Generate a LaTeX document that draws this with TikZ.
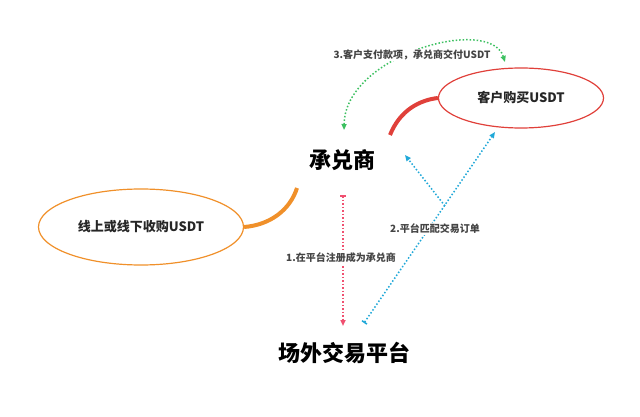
\documentclass[tikz,border=0pt]{standalone}
\usepackage{fontspec}
\setmainfont{Noto Sans CJK SC}
\usetikzlibrary{arrows.meta,shapes.geometric}
\definecolor{cred}{HTML}{E0403A}
\definecolor{corange}{HTML}{F0902A}
\definecolor{cgreen}{HTML}{3CC060}
\definecolor{cpink}{HTML}{F05070}
\definecolor{cblue}{HTML}{20A8D8}
\definecolor{ctxt}{HTML}{444444}
\begin{document}
\begin{tikzpicture}[x=1pt,y=-1pt,
  big/.style={font=\fontsize{22}{24}\bfseries\selectfont,text=black},
  mid/.style={font=\fontsize{13}{15}\bfseries\selectfont,text=black!85},
  lab/.style={font=\fontsize{10}{12}\bfseries\selectfont,text=ctxt,fill=white,inner sep=1pt},
  dot/.style={dash pattern=on 1.5pt off 2pt,line width=1.5pt}]
\useasboundingbox (0,0) rectangle (640,417);
\node[big] (ch) at (342,160) {承兑商};
\node[big] (pt) at (344,353) {场外交易平台};
\node[mid,draw=cred,line width=1.2pt,ellipse,minimum width=165pt,minimum height=60pt] (kh) at (521,98) {客户购买USDT};
\node[mid,draw=corange,line width=1.2pt,ellipse,minimum width=205pt,minimum height=76pt] (xs) at (141,227) {线上或线下收购USDT};
\draw[cred,line width=4pt] (390,135) .. controls (400,110) and (420,100) .. (kh.west);
\draw[corange,line width=4pt] (xs.east) .. controls (270,225) and (290,210) .. (297,188);
\coordinate (g1) at (344,130);
\coordinate (g2) at (505,62);
\draw[dot,cgreen,{Triangle[length=6pt,width=5pt]}-{Triangle[length=6pt,width=5pt]}] (g1) .. controls (345,55) and (490,15) .. (g2);
\node[lab] (l3) at (412,55) {3.客户支付款项，承兑商交付USDT};
\coordinate (r1) at (343,195);
\coordinate (r2) at (343,326);
\draw[dot,cpink,{Bar[width=6pt]}-{Triangle[length=6pt,width=5pt]}] (r1) -- (r2);
\node[lab] (l1) at (341,258) {1.在平台注册成为承兑商};
\coordinate (b1) at (364,323);
\coordinate (b2) at (495,132);
\coordinate (bm) at (445,206);
\coordinate (b3) at (405,155);
\draw[dot,cblue,{Bar[width=6pt]}-{Triangle[length=6pt,width=5pt]}] (b1) -- (b2);
\draw[dot,cblue,-{Triangle[length=6pt,width=5pt]}] (bm) -- (b3);
\node[lab] (l2) at (435,229) {2.平台匹配交易订单};
\end{tikzpicture}
\end{document}
